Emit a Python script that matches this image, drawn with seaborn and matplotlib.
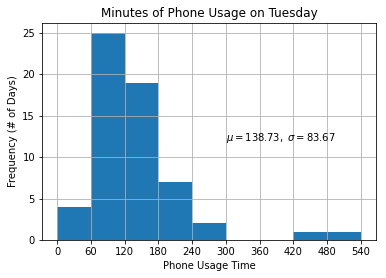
import matplotlib
matplotlib.use("Agg")
import matplotlib.pyplot as plt
import seaborn as sns
import numpy as np

bin_edges = [0, 60, 120, 180, 240, 300, 360, 420, 480, 540]
bin_counts = [4, 25, 19, 7, 2, 0, 0, 1, 1]
x_ticks = [0, 60, 120, 180, 240, 300, 360, 420, 480, 540]
y_ticks = [0, 5, 10, 15, 20, 25]
title = "Minutes of Phone Usage on Tuesday"
xlabel = "Phone Usage Time"
ylabel = "Frequency (# of Days)"
stats_text = r"$\mu=138.73,\ \sigma=83.67$"

plt.rcParams['font.family'] = ['DejaVu Sans']
fig = plt.figure(figsize=(386 / 72, 278 / 72), dpi=72)
ax = fig.add_axes([42 / 386, 1 - 240 / 278, (376 - 42) / 386, (240 - 22.7) / 278])

centers = [(a + b) / 2 for a, b in zip(bin_edges[:-1], bin_edges[1:])]
sns.histplot(x=centers, weights=bin_counts, bins=bin_edges, ax=ax,
             color="#1f77b4", alpha=1, linewidth=0, edgecolor="none")
for p in ax.patches:
    p.set_zorder(1)
    p.set_antialiased(False)

ax.set_xticks(x_ticks)
ax.set_yticks(y_ticks)
ax.set_axisbelow('line')
ax.grid(True, color="#b0b0b0", linewidth=0.8, zorder=1.5)
ax.set_title(title, fontsize=12)
ax.set_xlabel(xlabel, fontsize=10)
ax.set_ylabel(ylabel, fontsize=10)
ax.tick_params(labelsize=10)
ax.text(300, 12, stats_text, fontsize=10)

fig.savefig("out.png", dpi=72)
